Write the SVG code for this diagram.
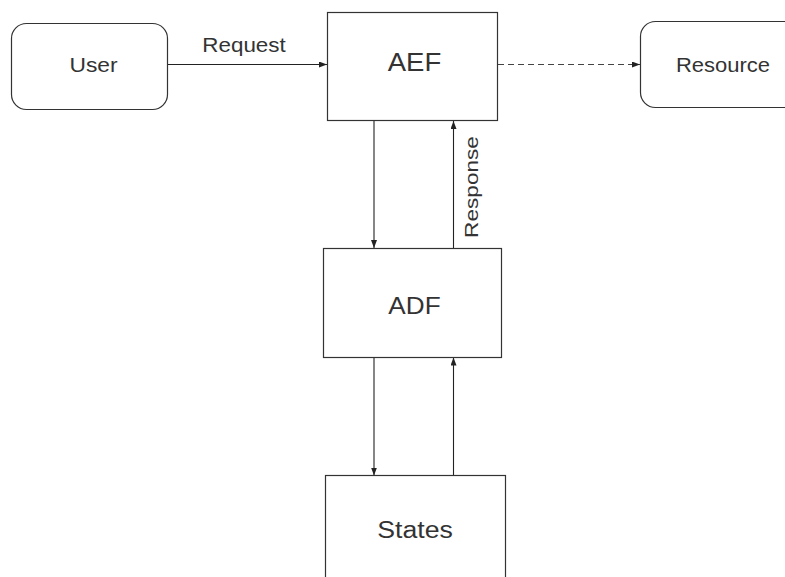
<svg xmlns="http://www.w3.org/2000/svg" width="785" height="577" viewBox="0 0 785 577">
  <style>
    .box { fill: #ffffff; stroke: #333333; stroke-width: 1.2; }
    .label { font-family: "Liberation Sans", Arial, sans-serif; fill: #333333; text-anchor: middle; }
    .edge { stroke: #222222; stroke-width: 1.1; fill: none; marker-end: url(#arrow); }
    .dashed { stroke-dasharray: 6 4; stroke: #444444; }
  </style>
  <defs>
    <marker id="arrow" viewBox="0 0 8 6" refX="8" refY="3" markerWidth="8" markerHeight="6" markerUnits="userSpaceOnUse" orient="auto">
      <path d="M0,0 L8,3 L0,6 z" fill="#222222"/>
    </marker>
  </defs>
  <rect width="785" height="577" fill="#ffffff"/>

  <g id="connectors">
    <line class="edge" x1="168" y1="64.5" x2="327" y2="64.5"/>
    <line class="edge dashed" x1="498" y1="64.5" x2="640" y2="64.5"/>
    <line class="edge" x1="374" y1="121" x2="374" y2="248"/>
    <line class="edge" x1="453.5" y1="248" x2="453.5" y2="121"/>
    <line class="edge" x1="374" y1="357.5" x2="374" y2="475.5"/>
    <line class="edge" x1="453.5" y1="475.5" x2="453.5" y2="357.5"/>
    <!-- labels are stretched horizontally to the wider lettering -->
    <text class="label" x="0" y="0" font-size="20" transform="translate(244,51.7) scale(1.12,1)">Request</text>
    <text class="label" x="0" y="0" font-size="19" transform="translate(478.3,187) rotate(-90) scale(1.19,1)">Response</text>
  </g>

  <g id="user">
    <rect class="box" x="11.5" y="23.5" width="156" height="86" rx="15" ry="15"/>
    <text class="label" x="0" y="0" font-size="20" transform="translate(93.5,71.7) scale(1.14,1)">User</text>
  </g>

  <g id="aef">
    <rect class="box" x="327.5" y="12.5" width="170" height="108"/>
    <text class="label" x="0" y="0" font-size="25" transform="translate(414.5,70.7) scale(1.1,1)">AEF</text>
  </g>

  <g id="resource">
    <rect class="box" x="640.5" y="21.5" width="160" height="86" rx="15" ry="15"/>
    <text class="label" x="0" y="0" font-size="20" transform="translate(723,72) scale(1.1,1)">Resource</text>
  </g>

  <g id="adf">
    <rect class="box" x="323.5" y="248.5" width="178" height="109"/>
    <text class="label" x="0" y="0" font-size="24" transform="translate(414.5,314) scale(1.09,1)">ADF</text>
  </g>

  <g id="states">
    <rect class="box" x="325.5" y="475.5" width="180" height="120"/>
    <text class="label" x="0" y="0" font-size="23" transform="translate(415,538.3) scale(1.16,1)">States</text>
  </g>
</svg>
